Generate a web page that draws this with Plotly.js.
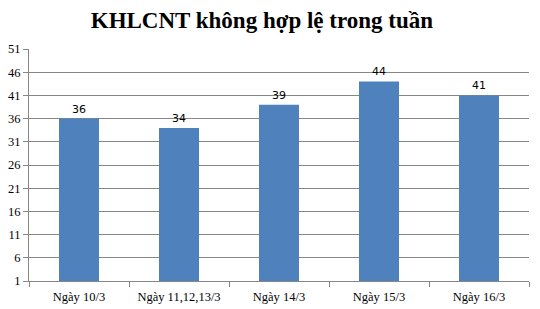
<!DOCTYPE html>
<html>
<head>
<meta charset="utf-8">
<script src="https://cdn.plot.ly/plotly-3.0.1.min.js"></script>
<style>
  html, body { margin: 0; padding: 0; background: #fff; }
  #chart { width: 540px; height: 309px; }
</style>
</head>
<body>
<div id="chart"></div>
<script>
// Số KHLCNT không hợp lệ theo ngày
const days = ['Ngày 10/3', 'Ngày 11,12,13/3', 'Ngày 14/3', 'Ngày 15/3', 'Ngày 16/3'];
const counts = [36, 34, 39, 44, 41];
const yTicks = [1, 6, 11, 16, 21, 26, 31, 36, 41, 46, 51];

const serif = 'Liberation Serif, Times New Roman, serif';
const axisGray = '#868686';

const trace = {
  type: 'bar',
  x: days,
  y: counts,
  marker: { color: '#4f81bd' },
  text: counts.map(String),
  textposition: 'outside',
  textfont: { family: 'DejaVu Sans, Verdana, sans-serif', size: 11, color: '#000' },
  cliponaxis: false,
  hoverinfo: 'x+y'
};

const layout = {
  width: 540,
  height: 309,
  margin: { l: 29, r: 11, t: 49, b: 28 },
  paper_bgcolor: '#fff',
  plot_bgcolor: '#fff',
  showlegend: false,
  bargap: 0.6,
  title: {
    text: '<b>KHLCNT không hợp lệ trong tuần</b>',
    font: { family: serif, size: 23, color: '#000' },
    x: 0.485,
    xanchor: 'center',
    y: 0.935,
    yanchor: 'middle'
  },
  xaxis: {
    type: 'category',
    tickson: 'boundaries',
    ticks: 'outside',
    ticklen: 5,
    tickcolor: axisGray,
    showline: true,
    linecolor: axisGray,
    linewidth: 1,
    showgrid: false,
    ticklabelstandoff: 4,
    tickfont: { family: serif, size: 12.5, color: '#000' }
  },
  yaxis: {
    range: [1, 51],
    tickvals: yTicks,
    ticktext: yTicks.map(String),
    ticks: 'outside',
    ticklen: 5,
    tickcolor: axisGray,
    showline: true,
    linecolor: axisGray,
    linewidth: 1,
    showgrid: true,
    gridcolor: axisGray,
    gridwidth: 1,
    zeroline: false,
    tickfont: { family: serif, size: 12.5, color: '#000' }
  }
};

Plotly.newPlot('chart', [trace], layout, { displayModeBar: false, staticPlot: true });
</script>
</body>
</html>
